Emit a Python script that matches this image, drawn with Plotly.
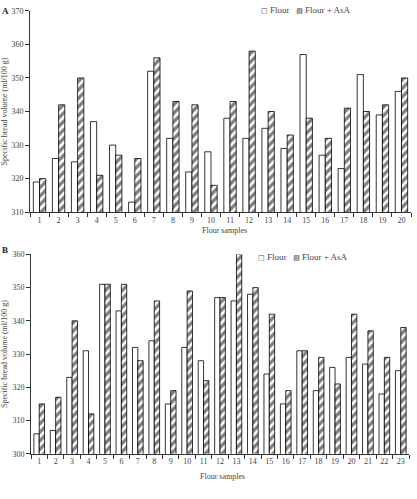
import plotly.graph_objects as go

samples_a = [str(i) for i in range(1, 21)]
flour_a = [319, 326, 325, 337, 330, 313, 352, 332, 322, 328, 338, 332, 335, 329, 357, 327, 323, 351, 339, 346]
asa_a = [320, 342, 350, 321, 327, 326, 356, 343, 342, 318, 343, 358, 340, 333, 338, 332, 341, 340, 342, 350]

samples_b = [str(i) for i in range(1, 24)]
flour_b = [306, 307, 323, 331, 351, 343, 332, 334, 315, 332, 328, 347, 346, 348, 324, 315, 331, 319, 326, 329, 327, 318, 325]
asa_b = [315, 317, 340, 312, 351, 351, 328, 346, 319, 349, 322, 347, 360, 350, 342, 319, 331, 329, 321, 342, 337, 329, 338]

W, H = 417, 499
FONT = "Liberation Serif"
TXT = "#444"

def px_x(p):
    return p / W

def px_y(p):
    return 1 - p / H

fig = go.Figure()

flour_style = dict(marker=dict(color="white", line=dict(color="black", width=0.8)))
asa_style = dict(marker=dict(color="white", line=dict(color="black", width=0.8),
                             pattern=dict(shape="/", fgcolor="black", bgcolor="white", size=6, solidity=0.55)))

fig.add_trace(go.Bar(x=samples_a, y=flour_a, name="Flour", xaxis="x", yaxis="y", showlegend=False, **flour_style))
fig.add_trace(go.Bar(x=samples_a, y=asa_a, name="Flour + AsA", xaxis="x", yaxis="y", showlegend=False, **asa_style))
fig.add_trace(go.Bar(x=samples_b, y=flour_b, name="Flour", xaxis="x2", yaxis="y2", showlegend=False, **flour_style))
fig.add_trace(go.Bar(x=samples_b, y=asa_b, name="Flour + AsA", xaxis="x2", yaxis="y2", showlegend=False,
                     cliponaxis=False, **asa_style))

axis_common = dict(showline=True, linecolor="#333", linewidth=1, ticks="outside", ticklen=4,
                   tickcolor="#333", showgrid=False, zeroline=False,
                   tickfont=dict(family=FONT, size=8, color=TXT))

legend_text = ("<span style='font-family:DejaVu Sans;font-size:7px'>□</span> Flour   "
               "<span style='font-family:DejaVu Sans;font-size:7px'>▨</span> Flour + AsA")

fig.update_layout(
    width=W, height=H, margin=dict(l=0, r=0, t=0, b=0),
    paper_bgcolor="white", plot_bgcolor="white",
    barmode="group", bargap=0.35, bargroupgap=0.0,
    font=dict(family=FONT, size=8, color=TXT),
    xaxis=dict(domain=[px_x(30), px_x(411)], anchor="y", type="category", tickson="boundaries",
               tickangle=0, **axis_common),
    yaxis=dict(domain=[px_y(212), px_y(7)], anchor="x", range=[310, 370], dtick=10,
               title=dict(text="Specific bread volume (ml/100 g)", font=dict(family=FONT, size=8, color=TXT), standoff=6),
               **axis_common),
    xaxis2=dict(domain=[px_x(31), px_x(409)], anchor="y2", type="category", tickson="boundaries",
                tickangle=0, **axis_common),
    yaxis2=dict(domain=[px_y(458), px_y(255)], anchor="x2", range=[300, 360], dtick=10,
                title=dict(text="Specific bread volume (ml/100 g)", font=dict(family=FONT, size=8, color=TXT), standoff=6),
                **axis_common),
    annotations=[
        dict(text=legend_text, x=px_x(259), y=px_y(6), xref="paper", yref="paper", xanchor="left",
             showarrow=False, font=dict(family=FONT, size=9, color=TXT), yanchor="middle"),
        dict(text=legend_text, x=px_x(256), y=px_y(258), xref="paper", yref="paper", xanchor="left",
             showarrow=False, font=dict(family=FONT, size=9, color=TXT), yanchor="middle"),
        dict(text="Flour samples", x=px_x(224), y=px_y(231), xref="paper", yref="paper",
             showarrow=False, font=dict(family=FONT, size=8, color=TXT), yanchor="middle"),
        dict(text="Flour samples", x=px_x(222), y=px_y(481), xref="paper", yref="paper",
             showarrow=False, font=dict(family=FONT, size=8, color=TXT), yanchor="middle"),
        dict(text="<b>A</b>", x=0, y=px_y(7), xref="paper", yref="paper", xanchor="left",
             showarrow=False, font=dict(family=FONT, size=9, color="#222"), yanchor="middle"),
        dict(text="<b>B</b>", x=0, y=px_y(251), xref="paper", yref="paper", xanchor="left",
             showarrow=False, font=dict(family=FONT, size=9, color="#222"), yanchor="middle"),
    ],
)

fig.write_html("out.html")
